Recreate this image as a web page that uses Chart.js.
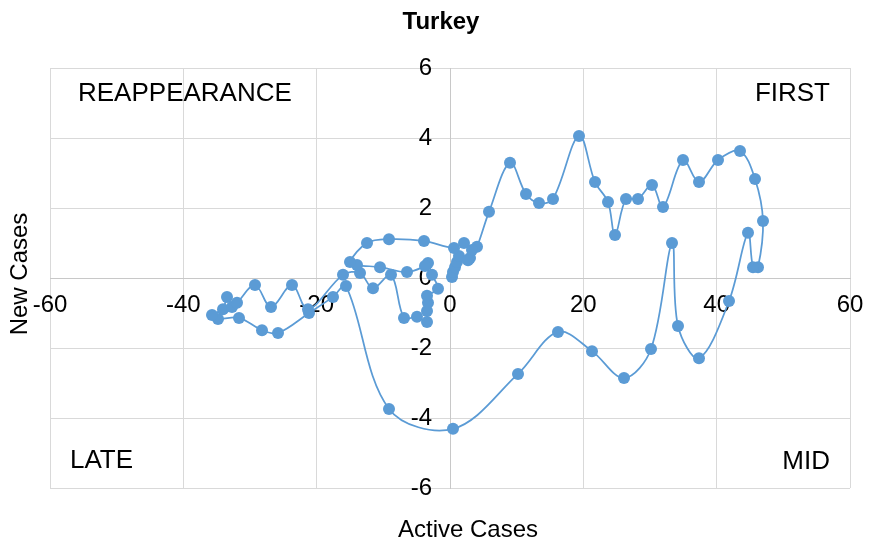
<!DOCTYPE html>
<html>
<head>
<meta charset="utf-8">
<script src="https://cdn.jsdelivr.net/npm/chart.js@4/dist/chart.umd.min.js"></script>
<style>
  html, body { margin: 0; padding: 0; background: #ffffff; }
  #wrap { width: 869px; height: 547px; }
</style>
</head>
<body>
<div id="wrap"><canvas id="c" width="869" height="547"></canvas></div>
<script>
// Trajectory of Turkey: change in active cases vs change in new cases
const activeCases = [0.3, 0.45, 0.75, 1.05, 1.35, 3.0, 4.05, 5.85, 9.0, 11.4,
  13.35, 15.45, 19.35, 21.75, 23.7, 24.75, 26.4, 28.2, 30.3, 31.95,
  34.95, 37.35, 40.2, 43.5, 45.75, 46.95, 46.2, 45.45, 44.7, 41.85,
  37.35, 34.2, 33.3, 30.15, 26.1, 21.3, 16.2, 10.2, 0.45, -9.15,
  -15.6, -17.55, -21.15, -25.8, -28.2, -31.65, -34.8, -35.7, -34.05, -33.45,
  -32.7, -31.95, -29.25, -26.85, -23.7, -21.3, -16.05, -13.5, -11.55, -8.85,
  -6.9, -4.95, -3.45, -3.45, -3.3, -3.45, -1.8, -2.7, -3.3, -3.75,
  -6.45, -10.5, -13.95, -15.0, -12.45, -9.15, -3.9, 0.6, 2.1, 3.3, 2.7];

const newCases = [0.03, 0.17, 0.31, 0.46, 0.63, 0.57, 0.89, 1.89, 3.29, 2.4,
  2.14, 2.26, 4.06, 2.74, 2.17, 1.23, 2.26, 2.26, 2.66, 2.03,
  3.37, 2.74, 3.37, 3.63, 2.83, 1.63, 0.31, 0.31, 1.29, -0.66,
  -2.29, -1.37, 1.0, -2.03, -2.86, -2.09, -1.54, -2.74, -4.31, -3.74,
  -0.23, -0.54, -1.0, -1.57, -1.49, -1.14, -1.17, -1.06, -0.89, -0.54,
  -0.83, -0.71, -0.2, -0.83, -0.2, -0.89, 0.09, 0.14, -0.29, 0.09,
  -1.14, -1.11, -1.26, -0.94, -0.71, -0.51, -0.31, 0.09, 0.43, 0.34,
  0.17, 0.31, 0.37, 0.46, 1.0, 1.11, 1.06, 0.86, 1.0, 0.8, 0.51];

const xRange = [-60, 60];
const yRange = [-6, 6];
const xStep = 20;
const yStep = 2;

const chartTitle = 'Turkey';
const xTitle = 'Active Cases';
const yTitle = 'New Cases';
const quadrantNames = { topLeft: 'REAPPEARANCE', topRight: 'FIRST', bottomLeft: 'LATE', bottomRight: 'MID' };

const FONT = "'Liberation Sans', Arial, sans-serif";
const BLUE = '#5B9BD5';
const GRID = '#D9D9D9';

const points = activeCases.map((x, i) => ({ x: x, y: newCases[i] }));

// Title, quadrant names, axis titles and tick labels placed along the crossing axes
const annotations = {
  id: 'annotations',
  beforeDatasetsDraw(chart) {
    const { ctx, chartArea: a } = chart;
    const xs = chart.scales.x, ys = chart.scales.y;
    ctx.save();
    ctx.fillStyle = '#000000';
    ctx.font = '26px ' + FONT;
    ctx.textBaseline = 'middle';
    ctx.textAlign = 'left';
    ctx.fillText(quadrantNames.topLeft, a.left + 28, a.top + 26);
    ctx.fillText(quadrantNames.bottomLeft, a.left + 20, a.bottom - 27);
    ctx.textAlign = 'right';
    ctx.fillText(quadrantNames.topRight, a.right - 20, a.top + 26);
    ctx.fillText(quadrantNames.bottomRight, a.right - 20, a.bottom - 26);

    const axisX = xs.getPixelForValue(0);
    const axisY = ys.getPixelForValue(0);
    ctx.font = '24px ' + FONT;
    // vertical axis labels, right-aligned just left of x = 0
    ctx.textAlign = 'right';
    ys.ticks.forEach(t => {
      ctx.fillText(String(t.value), axisX - 18, ys.getPixelForValue(t.value));
    });
    // horizontal axis labels, centred just below y = 0
    ctx.textAlign = 'center';
    xs.ticks.forEach(t => {
      ctx.fillText(String(t.value), xs.getPixelForValue(t.value), axisY + 27);
    });
    ctx.restore();
  },
  afterDraw(chart) {
    const { ctx } = chart;
    ctx.save();
    ctx.fillStyle = '#000000';
    ctx.textAlign = 'center';
    ctx.textBaseline = 'middle';
    ctx.font = 'bold 24px ' + FONT;
    ctx.fillText(chartTitle, 441, 22);
    ctx.font = '24px ' + FONT;
    ctx.fillText(xTitle, 468, 530);
    ctx.translate(20, 274);
    ctx.rotate(-Math.PI / 2);
    ctx.fillText(yTitle, 0, 0);
    ctx.restore();
  }
};

new Chart(document.getElementById('c'), {
  type: 'scatter',
  data: {
    datasets: [{
      data: points,
      showLine: true,
      borderColor: BLUE,
      borderWidth: 1.75,
      backgroundColor: BLUE,
      pointBackgroundColor: BLUE,
      pointBorderColor: BLUE,
      pointBorderWidth: 0,
      pointRadius: 6,
      tension: 0.35
    }]
  },
  options: {
    responsive: false,
    animation: false,
    layout: { padding: { left: 50, right: 19, top: 68, bottom: 59 } },
    plugins: {
      legend: { display: false },
      tooltip: { enabled: false },
      title: { display: false }
    },
    scales: {
      x: {
        type: 'linear',
        min: xRange[0], max: xRange[1],
        position: { y: 0 },
        grid: { color: GRID, drawTicks: false, lineWidth: 1 },
        border: { color: '#C8C8C8', width: 1 },
        ticks: { stepSize: xStep, display: false }
      },
      y: {
        type: 'linear',
        min: yRange[0], max: yRange[1],
        position: { x: 0 },
        grid: { color: GRID, drawTicks: false, lineWidth: 1 },
        border: { color: '#C8C8C8', width: 1 },
        ticks: { stepSize: yStep, display: false }
      }
    }
  },
  plugins: [annotations]
});
</script>
</body>
</html>
